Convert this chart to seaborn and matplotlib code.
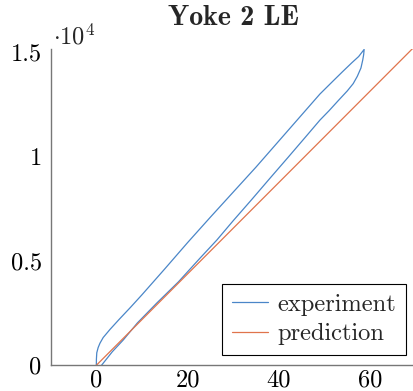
import matplotlib
matplotlib.use("Agg")
import matplotlib.pyplot as plt
import seaborn as sns
import pandas as pd

# Load path (rising branch) of the measured response
load_x = [0, 0.02, 0.1, 0.4, 0.8, 1.5, 3, 5, 7.5, 10, 15, 20, 25, 30, 35,
          40, 45, 49, 52, 54, 56, 57.5, 58.7]
load_y = [0, 300, 600, 850, 1060, 1330, 1720, 2200, 2780, 3380, 4620, 5880,
          7100, 8300, 9500, 10750, 12000, 13000, 13650, 14080, 14500, 14800, 15140]

# Unload path (falling branch) of the measured response
unload_x = [58.7, 58.6, 58.4, 58.0, 57.2, 56.3, 55, 53, 51, 49, 46, 42, 38,
            34, 30, 26.4, 22.7, 18, 13.2, 9, 5.9, 3.5, 1.14]
unload_y = [15140, 14900, 14640, 14250, 13850, 13500, 13150, 12680, 12200,
            11750, 10980, 9960, 8950, 7930, 6930, 6000, 5130, 4000, 2972,
            2030, 1213, 650, 0]

# Linear model prediction
pred_x = [0, 70]
pred_y = [0, 15330]

x_ticks = [0, 20, 40, 60]
y_ticks = [0, 5000, 10000, 15000]
y_tick_labels = ["0", "0.5", "1", "1.5"]

sns.set_theme(style="white")
plt.rcParams["font.family"] = ["cmr10", "DejaVu Serif"]
plt.rcParams["mathtext.fontset"] = "cm"
plt.rcParams["axes.formatter.use_mathtext"] = True

exp_df = pd.DataFrame({"x": load_x + unload_x, "y": load_y + unload_y})
pred_df = pd.DataFrame({"x": pred_x, "y": pred_y})

fig = plt.figure(figsize=(4.14, 3.91), dpi=100)
ax = fig.add_axes([50.7 / 414, 1 - 365.3 / 391, 365 / 414, 316.3 / 391])

sns.lineplot(data=exp_df, x="x", y="y", sort=False, estimator=None, ax=ax,
             color="#4a86c8", linewidth=0.9, label="experiment")
sns.lineplot(data=pred_df, x="x", y="y", sort=False, estimator=None, ax=ax,
             color="#e0744c", linewidth=0.9, label="prediction")

ax.set_xlim(-10, 70)
ax.set_ylim(0, 15160)
ax.set_xticks(x_ticks)
ax.set_xticklabels([str(t) for t in x_ticks])
ax.set_yticks(y_ticks)
ax.set_yticklabels(y_tick_labels)
ax.set_xlabel("")
ax.set_ylabel("")

for side in ("top", "right"):
    ax.spines[side].set_visible(False)
for side in ("left", "bottom"):
    ax.spines[side].set_color("#777777")
    ax.spines[side].set_linewidth(1.0)

ax.tick_params(axis="both", direction="in", length=6.5, width=0.7,
               color="#b0b0b0", labelsize=17.6, labelcolor="black")
ax.tick_params(axis="y", pad=6.5)
ax.tick_params(axis="x", pad=3)

# Title placed in figure pixels so its baseline sits just above the axes
fig.text(233 / 414, 1 - 25 / 391, "Yoke 2 LE", fontsize=20.2,
         fontfamily="cmb10", ha="center", va="baseline")
fig.text(53 / 414, 1 - 44 / 391, r"$\cdot 10^{4}$",
         fontsize=17.6, ha="left", va="baseline")

leg = ax.legend(loc="lower right", bbox_to_anchor=(0.9726, 0.0326),
                borderaxespad=0, fontsize=17.6, frameon=True, fancybox=False,
                framealpha=1, edgecolor="black", handlelength=1.5,
                handletextpad=0.36, borderpad=0.4, labelspacing=0.3)
leg.get_frame().set_linewidth(0.8)

fig.savefig("out.png", dpi=100)
